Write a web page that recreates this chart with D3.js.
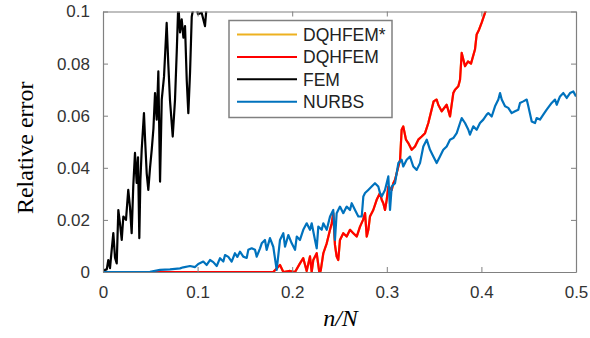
<!DOCTYPE html>
<html>
<head>
<meta charset="utf-8">
<script src="https://cdn.jsdelivr.net/npm/d3@7"></script>
<style>
  html, body { margin: 0; padding: 0; background: #fff; }
  .tick text { font-family: Arial, "Liberation Sans", sans-serif; font-size: 17px; fill: #333; }
  .axis path, .axis line { stroke: #808080; }
  .series { fill: none; stroke-width: 2.2; stroke-linejoin: round; }
</style>
</head>
<body>
<div id="chart"></div>
<script>
// values
const xTicks = [0, 0.1, 0.2, 0.3, 0.4, 0.5];
const yTicks = [0, 0.02, 0.04, 0.06, 0.08, 0.1];
const seriesNames = ['DQHFEM*', 'DQHFEM', 'FEM', 'NURBS'];
const seriesColors = ['#EDB120', '#FF0000', '#000000', '#0072BD'];

const femX = [0, 0.002, 0.004, 0.0056, 0.0074, 0.0092, 0.0109, 0.0127, 0.0145, 0.0162, 0.018, 0.0198,
  0.0215, 0.0243, 0.0267, 0.0285, 0.0303, 0.032, 0.0338, 0.0356, 0.037, 0.0384, 0.0395, 0.0409, 0.0433,
  0.0446, 0.0462, 0.0479, 0.0497, 0.0515, 0.0533, 0.055, 0.0568, 0.0585, 0.0603, 0.0621, 0.0645, 0.0673,
  0.069, 0.0708, 0.0737, 0.0761, 0.078, 0.0796, 0.0814, 0.0832, 0.085, 0.0867, 0.0885, 0.0902, 0.092,
  0.0938, 0.0973, 0.1004, 0.1043, 0.106, 0.1078, 0.11, 0.113];
const femY = [0, 0.0008, 0.001, 0.0046, 0.0015, 0.0085, 0.0149, 0.0055, 0.0033, 0.0238, 0.0185, 0.0123,
  0.0213, 0.02, 0.0315, 0.025, 0.0149, 0.033, 0.0457, 0.0342, 0.044, 0.013, 0.035, 0.0469, 0.061,
  0.05, 0.0379, 0.0315, 0.04, 0.0469, 0.055, 0.0687, 0.0585, 0.077, 0.0347, 0.0662, 0.075, 0.0956,
  0.08, 0.066, 0.052, 0.066, 0.085, 0.103, 0.092, 0.097, 0.09, 0.0944, 0.0738, 0.061, 0.0765,
  0.098, 0.105, 0.099, 0.0995, 0.097, 0.0944, 0.104, 0.11];

const dqhfemX = [0, 0.18, 0.1871, 0.1906, 0.1977, 0.203, 0.2082, 0.2117, 0.2153, 0.2188, 0.2206, 0.2223,
  0.2259, 0.2286, 0.2301, 0.2329, 0.2365, 0.24, 0.2418, 0.2434, 0.2452, 0.247, 0.2487, 0.2505, 0.254,
  0.2576, 0.2611, 0.2646, 0.2682, 0.2717, 0.2749, 0.277, 0.2788, 0.2805, 0.2822, 0.2857, 0.2893, 0.2928,
  0.2946, 0.2963, 0.2981, 0.2999, 0.3016, 0.3052, 0.3069, 0.3087, 0.3105, 0.3122, 0.314, 0.3157, 0.3174,
  0.3203, 0.3227, 0.3263, 0.3298, 0.3333, 0.3369, 0.3404, 0.3439, 0.3495, 0.3527, 0.3544, 0.358, 0.3633,
  0.3668, 0.3703, 0.3721, 0.3756, 0.3774, 0.3792, 0.3827, 0.3858, 0.389, 0.3932, 0.395, 0.3975, 0.4003,
  0.4038, 0.407, 0.412];
const dqhfemY = [0, 0, 0.0027, 0, 0.0004, 0, 0.0033, 0.0053, 0.0004, 0.006, 0, 0.0046,
  0.0072, 0, 0.0004, 0.0072, 0.011, 0.0162, 0.0187, 0.0226, 0.0104, 0.0059, 0.0046, 0.0123, 0.0149,
  0.0136, 0.0162, 0.0149, 0.0136, 0.0174, 0.02, 0.0226, 0.0136, 0.0162, 0.0213, 0.0238, 0.0277, 0.0303,
  0.0277, 0.0264, 0.0238, 0.0277, 0.0328, 0.0315, 0.0341, 0.0354, 0.038, 0.0405, 0.043, 0.0546, 0.0559,
  0.0508, 0.0495, 0.0469, 0.0482, 0.0508, 0.052, 0.0533, 0.0572, 0.0655, 0.0662, 0.0642, 0.0617, 0.0642,
  0.0597, 0.0687, 0.07, 0.0713, 0.0738, 0.0841, 0.079, 0.0808, 0.08, 0.0854, 0.0912, 0.093, 0.0957,
  0.0995, 0.1027, 0.11];

// DQHFEM* lies under DQHFEM in the picture (only a faint orange edge shows)
const dqhfemStarX = dqhfemX;
const dqhfemStarY = dqhfemY;

const nurbsX = [0, 0.0285, 0.0497, 0.0603, 0.0708, 0.0814, 0.0849, 0.092, 0.0973, 0.1007, 0.106, 0.1096,
  0.1131, 0.1166, 0.1202, 0.1237, 0.1272, 0.129, 0.1325, 0.136, 0.1395, 0.142, 0.1448, 0.1483, 0.1519,
  0.1536, 0.1572, 0.1607, 0.1625, 0.166, 0.1678, 0.1712, 0.173, 0.1765, 0.18, 0.1836, 0.1871, 0.1906,
  0.1924, 0.1959, 0.1995, 0.203, 0.2048, 0.2082, 0.2117, 0.2153, 0.2188, 0.2206, 0.2241, 0.2259, 0.2276,
  0.2312, 0.2329, 0.2365, 0.24, 0.2434, 0.2452, 0.247, 0.2505, 0.254, 0.2576, 0.2611, 0.2629, 0.2664,
  0.2699, 0.2735, 0.2752, 0.277, 0.2804, 0.284, 0.2875, 0.291, 0.2928, 0.2946, 0.2981, 0.3016, 0.3034,
  0.3052, 0.3087, 0.3122, 0.3157, 0.3174, 0.321, 0.3245, 0.328, 0.3316, 0.3351, 0.3386, 0.3422, 0.3457,
  0.3492, 0.3527, 0.3562, 0.3597, 0.3633, 0.3668, 0.3703, 0.3739, 0.3774, 0.3792, 0.3827, 0.3862, 0.3879,
  0.3914, 0.395, 0.3985, 0.402, 0.4056, 0.4073, 0.4109, 0.4144, 0.4179, 0.4197, 0.4215, 0.425, 0.4284,
  0.432, 0.4355, 0.439, 0.4408, 0.4443, 0.4479, 0.4496, 0.4532, 0.4567, 0.4584, 0.4619, 0.4654, 0.469,
  0.4743, 0.4778, 0.4796, 0.4831, 0.4866, 0.4902, 0.4937, 0.4972, 0.5];
const nurbsY = [0, 0, 0.0001, 0.0008, 0.001, 0.0014, 0.0018, 0.0023, 0.0019, 0.0031, 0.004, 0.0027,
  0.0046, 0.0038, 0.0023, 0.0053, 0.004, 0.0065, 0.0058, 0.004, 0.0072, 0.0058, 0.0078, 0.0059, 0.0054,
  0.0085, 0.0091, 0.0085, 0.0059, 0.0091, 0.011, 0.0123, 0.0085, 0.013, 0.0097, 0.0008, 0.0123, 0.0149,
  0.0097, 0.0142, 0.011, 0.0085, 0.0136, 0.0123, 0.0162, 0.0187, 0.0162, 0.0187, 0.0123, 0.0091, 0.0174,
  0.0162, 0.0187, 0.0162, 0.0213, 0.0238, 0.0123, 0.0226, 0.0251, 0.0226, 0.0251, 0.0238, 0.0264, 0.0238,
  0.0213, 0.0213, 0.029, 0.0303, 0.0315, 0.0328, 0.0341, 0.0328, 0.0303, 0.029, 0.0315, 0.0367, 0.0238,
  0.0328, 0.0341, 0.0418, 0.0431, 0.0405, 0.0431, 0.0443, 0.0405, 0.0392, 0.0418, 0.0482, 0.0508, 0.0469,
  0.0443, 0.0418, 0.0443, 0.0469, 0.0482, 0.0508, 0.0514, 0.0533, 0.0572, 0.0591, 0.0572, 0.0546, 0.0527,
  0.0559, 0.0546, 0.0572, 0.0585, 0.0604, 0.061, 0.0597, 0.0636, 0.0662, 0.0687, 0.0662, 0.0636, 0.063,
  0.061, 0.0617, 0.0623, 0.0649, 0.0655, 0.0662, 0.0636, 0.0578, 0.0572, 0.0591, 0.0585, 0.0604, 0.0623,
  0.0649, 0.0662, 0.0642, 0.0674, 0.0687, 0.0668, 0.0687, 0.0693, 0.0674];

const seriesX = [dqhfemStarX, dqhfemX, femX, nurbsX];
const seriesY = [dqhfemStarY, dqhfemY, femY, nurbsY];

const width = 590;
const height = 338;
const margin = { top: 11.5, right: 14, bottom: 66, left: 103 };
const innerW = width - margin.left - margin.right;
const innerH = height - margin.top - margin.bottom;

const svg = d3.select('#chart')
  .append('svg')
  .attr('width', width)
  .attr('height', height);

const g = svg.append('g')
  .attr('transform', `translate(${margin.left},${margin.top})`);

const x = d3.scaleLinear().domain([0, 0.5]).range([0, innerW]);
const y = d3.scaleLinear().domain([0, 0.1]).range([innerH, 0]);

const fmt = d => d === 0 ? '0' : String(+d.toFixed(2));

g.append('clipPath')
  .attr('id', 'plot-clip')
  .append('rect')
  .attr('width', innerW)
  .attr('height', innerH);

const line = d3.line()
  .x(d => x(d[0]))
  .y(d => y(d[1]));

// plotted in legend order, NURBS ends up on top
seriesNames.forEach((name, i) => {
  const pts = seriesX[i].map((v, k) => [v, seriesY[i][k]]);
  g.append('path')
    .datum(pts)
    .attr('class', 'series')
    .attr('clip-path', 'url(#plot-clip)')
    .attr('stroke', seriesColors[i])
    .attr('d', line);
});

// axes, ticks pointing inward, box all round
g.append('g')
  .attr('class', 'axis')
  .attr('transform', `translate(0,${innerH})`)
  .call(d3.axisBottom(x).tickValues(xTicks).tickFormat(fmt).tickSizeInner(-5).tickSizeOuter(0).tickPadding(14));

g.append('g')
  .attr('class', 'axis')
  .call(d3.axisTop(x).tickValues(xTicks).tickFormat('').tickSizeInner(-5).tickSizeOuter(0));

g.append('g')
  .attr('class', 'axis')
  .call(d3.axisLeft(y).tickValues(yTicks).tickFormat(fmt).tickSizeInner(-5).tickSizeOuter(0).tickPadding(13));

g.append('g')
  .attr('class', 'axis')
  .attr('transform', `translate(${innerW},0)`)
  .call(d3.axisRight(y).tickValues(yTicks).tickFormat('').tickSizeInner(-5).tickSizeOuter(0));

g.selectAll('.axis path').attr('stroke-width', 1.2);

// axis titles
svg.append('text')
  .attr('transform', `translate(33,${margin.top + innerH / 2 + 6}) rotate(-90)`)
  .attr('text-anchor', 'middle')
  .attr('font-family', '"Liberation Serif", "Times New Roman", serif')
  .attr('font-size', 24)
  .attr('fill', '#000')
  .text('Relative error');

svg.append('text')
  .attr('x', margin.left + innerW / 2 + 1)
  .attr('y', 326)
  .attr('text-anchor', 'middle')
  .attr('font-family', '"Liberation Serif", "Times New Roman", serif')
  .attr('font-style', 'italic')
  .attr('font-size', 24)
  .attr('fill', '#000')
  .text('n/N');

// legend
const legend = svg.append('g').attr('transform', 'translate(229,20.5)');
legend.append('rect')
  .attr('width', 163)
  .attr('height', 97)
  .attr('fill', '#fff')
  .attr('stroke', '#808080')
  .attr('stroke-width', 1.5);

seriesNames.forEach((name, i) => {
  const ry = 14 + i * 22.4;
  legend.append('line')
    .attr('x1', 8).attr('x2', 68)
    .attr('y1', ry).attr('y2', ry)
    .attr('stroke', seriesColors[i])
    .attr('stroke-width', 2);
  legend.append('text')
    .attr('x', 74)
    .attr('y', ry + 6.5)
    .attr('font-family', 'Arial, "Liberation Sans", sans-serif')
    .attr('font-size', 17.5)
    .attr('fill', '#222')
    .text(name);
});
</script>
</body>
</html>
